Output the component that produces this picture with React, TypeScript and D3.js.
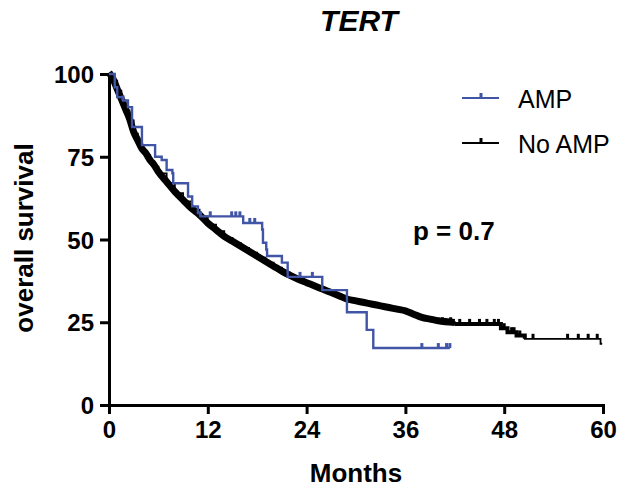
import React, { useEffect, useRef } from "react"
import * as d3 from "d3"

// Kaplan-Meier steps (months, % survival)
const ampTimes = [0, 0.7, 1.0, 1.7, 2.3, 2.8, 4.0, 5.6, 6.4, 7.0, 7.7, 7.8, 9.6, 10.1, 10.8, 11.1, 16.3, 18.6, 18.7, 19.1, 19.2, 21.0, 21.7, 25.9, 28.9, 31.3, 32.1, 41.4]
const ampSurv = [100, 96, 93, 92, 90, 84, 78.5, 75, 74, 71, 70, 67, 63, 60, 58, 57, 55, 53, 49, 47, 45, 43, 38.7, 34.7, 28, 22.7, 17.2, 17.2]
const ampCensor = [1.7, 11.1, 12.3, 14.9, 15.4, 15.9, 17.1, 17.7, 23.2, 24.7, 38.0, 40.0, 41.0, 41.4]

const noAmpTimes = [0, 0.5, 1, 1.5, 2, 2.5, 3, 3.5, 4, 4.5, 5, 5.5, 6, 7, 8, 9, 10, 11, 12, 13, 14, 15, 16, 17, 18, 19, 20, 21, 22, 23, 24, 25, 26, 27, 28, 29, 30, 31, 32, 33, 34, 35, 36, 37, 38, 39, 40, 42, 47.6, 48.4, 49.5, 50.5, 59.7, 59.9]
const noAmpSurv = [100, 98, 95, 92, 89, 86, 82, 79.5, 77, 75.5, 73.5, 72, 70, 67, 64, 61.5, 59, 57, 54.5, 52.5, 50.5, 49, 47.5, 46, 44.5, 43, 41.5, 40, 38.7, 37.5, 36.5, 35.5, 34.5, 33.5, 32.5, 31.5, 31, 30.5, 30, 29.5, 29, 28.5, 28, 27, 26, 25.5, 25, 24.5, 23.2, 22, 21, 20, 18.5, 18.5]
const noAmpCensor = [40.5, 41.5, 42.6, 43.8, 45, 45.9, 46.8, 47.3, 48, 48.9, 49.2, 49.9, 51.5, 55.7, 57, 58.2, 59.3]

const xTicks = [0, 12, 24, 36, 48, 60]
const yTicks = [0, 25, 50, 75, 100]

const BLUE = "#4155a6"
const FONT = "'Liberation Sans', Arial, sans-serif"

const survAt = (times: number[], surv: number[], t: number) => {
  const i = d3.bisectRight(times, t) - 1
  return surv[Math.max(0, i)]
}

export default function App() {
  const ref = useRef<SVGSVGElement>(null)

  useEffect(() => {
    const svg = d3.select(ref.current)
    svg.selectAll("*").remove()

    const x = d3.scaleLinear().domain([0, 60]).range([109, 603])
    const y = d3.scaleLinear().domain([0, 100]).range([405, 74])

    const line = d3.line<[number, number]>().x(d => x(d[0])).y(d => y(d[1])).curve(d3.curveStepAfter)
    // the dense censor marks of the large group read as a smooth band
    const band = d3.line<[number, number]>().x(d => x(d[0])).y(d => y(d[1]) - 1.5).curve(d3.curveMonotoneX)

    const ampPts = ampTimes.map((t, i) => [t, ampSurv[i]] as [number, number])
    const noPts = noAmpTimes.map((t, i) => [t, noAmpSurv[i]] as [number, number])
    const bandPts = noPts.filter(d => d[0] <= 42)
    const stepThick = noPts.filter(d => d[0] >= 42 && d[0] <= 50.5)

    // title
    svg.append("text").attr("x", 359).attr("y", 31).attr("text-anchor", "middle")
      .attr("font-family", FONT).attr("font-weight", "bold").attr("font-style", "italic")
      .attr("font-size", 30).text("TERT")

    // axes
    const xAxis = svg.append("g").attr("transform", `translate(0,${405})`)
      .call(d3.axisBottom(x).tickValues(xTicks).tickSize(9).tickSizeOuter(0).tickPadding(7))
    const yAxis = svg.append("g").attr("transform", `translate(${109},0)`)
      .call(d3.axisLeft(y).tickValues(yTicks).tickSize(9).tickSizeOuter(0).tickPadding(6))
    for (const g of [xAxis, yAxis]) {
      g.select(".domain").attr("stroke", "#000").attr("stroke-width", 3).attr("stroke-linecap", "square")
      g.selectAll(".tick line").attr("stroke", "#000").attr("stroke-width", 3)
      g.selectAll(".tick text").attr("font-family", FONT).attr("font-weight", "bold").attr("font-size", 24).attr("fill", "#000")
    }
    yAxis.selectAll(".tick text").attr("dy", "0.36em")

    // No AMP curve
    svg.append("path").attr("d", line(noPts)).attr("fill", "none").attr("stroke", "#000").attr("stroke-width", 1.8)
    svg.append("path").attr("d", band(bandPts)).attr("fill", "none").attr("stroke", "#000")
      .attr("stroke-width", 7).attr("stroke-linejoin", "round")
    svg.append("path").attr("d", line(stepThick)).attr("fill", "none").attr("stroke", "#000").attr("stroke-width", 4)
    svg.selectAll(".cen-no").data(noAmpCensor).join("line").attr("class", "cen-no")
      .attr("x1", d => x(d)).attr("x2", d => x(d))
      .attr("y1", d => y(survAt(noAmpTimes, noAmpSurv, d))).attr("y2", d => y(survAt(noAmpTimes, noAmpSurv, d)) - 5)
      .attr("stroke", "#000").attr("stroke-width", 3)

    // AMP curve
    svg.append("path").attr("d", line(ampPts)).attr("fill", "none").attr("stroke", BLUE).attr("stroke-width", 2.4)
    svg.selectAll(".cen-amp").data(ampCensor).join("line").attr("class", "cen-amp")
      .attr("x1", d => x(d)).attr("x2", d => x(d))
      .attr("y1", d => y(survAt(ampTimes, ampSurv, d))).attr("y2", d => y(survAt(ampTimes, ampSurv, d)) - 5)
      .attr("stroke", BLUE).attr("stroke-width", 3)

    // axis titles
    svg.append("text").attr("x", 356).attr("y", 482).attr("text-anchor", "middle")
      .attr("font-family", FONT).attr("font-weight", "bold").attr("font-size", 26).text("Months")
    svg.append("text").attr("transform", "translate(33,238) rotate(-90)").attr("text-anchor", "middle")
      .attr("font-family", FONT).attr("font-weight", "bold").attr("font-size", 26).text("overall survival")

    // p value
    svg.append("text").attr("x", 413).attr("y", 240)
      .attr("font-family", FONT).attr("font-weight", "bold").attr("font-size", 26).text("p = 0.7")

    // legend
    const legend = [{ label: "AMP", color: BLUE, y: 98 }, { label: "No AMP", color: "#000", y: 143 }]
    const lg = svg.selectAll(".leg").data(legend).join("g").attr("class", "leg")
    lg.append("line").attr("x1", 462).attr("x2", 499).attr("y1", d => d.y).attr("y2", d => d.y)
      .attr("stroke", d => d.color).attr("stroke-width", 2)
    lg.append("line").attr("x1", 481).attr("x2", 481).attr("y1", d => d.y).attr("y2", d => d.y - 5)
      .attr("stroke", d => d.color).attr("stroke-width", 3)
    lg.append("text").attr("x", 518).attr("y", d => d.y + 10)
      .attr("font-family", FONT).attr("font-size", 25).attr("fill", "#000").text(d => d.label)
  }, [])

  return (
    <svg ref={ref} width={625} height={489} style={{ position: "absolute", left: 0, top: 0, background: "#fff" }} />
  )
}
